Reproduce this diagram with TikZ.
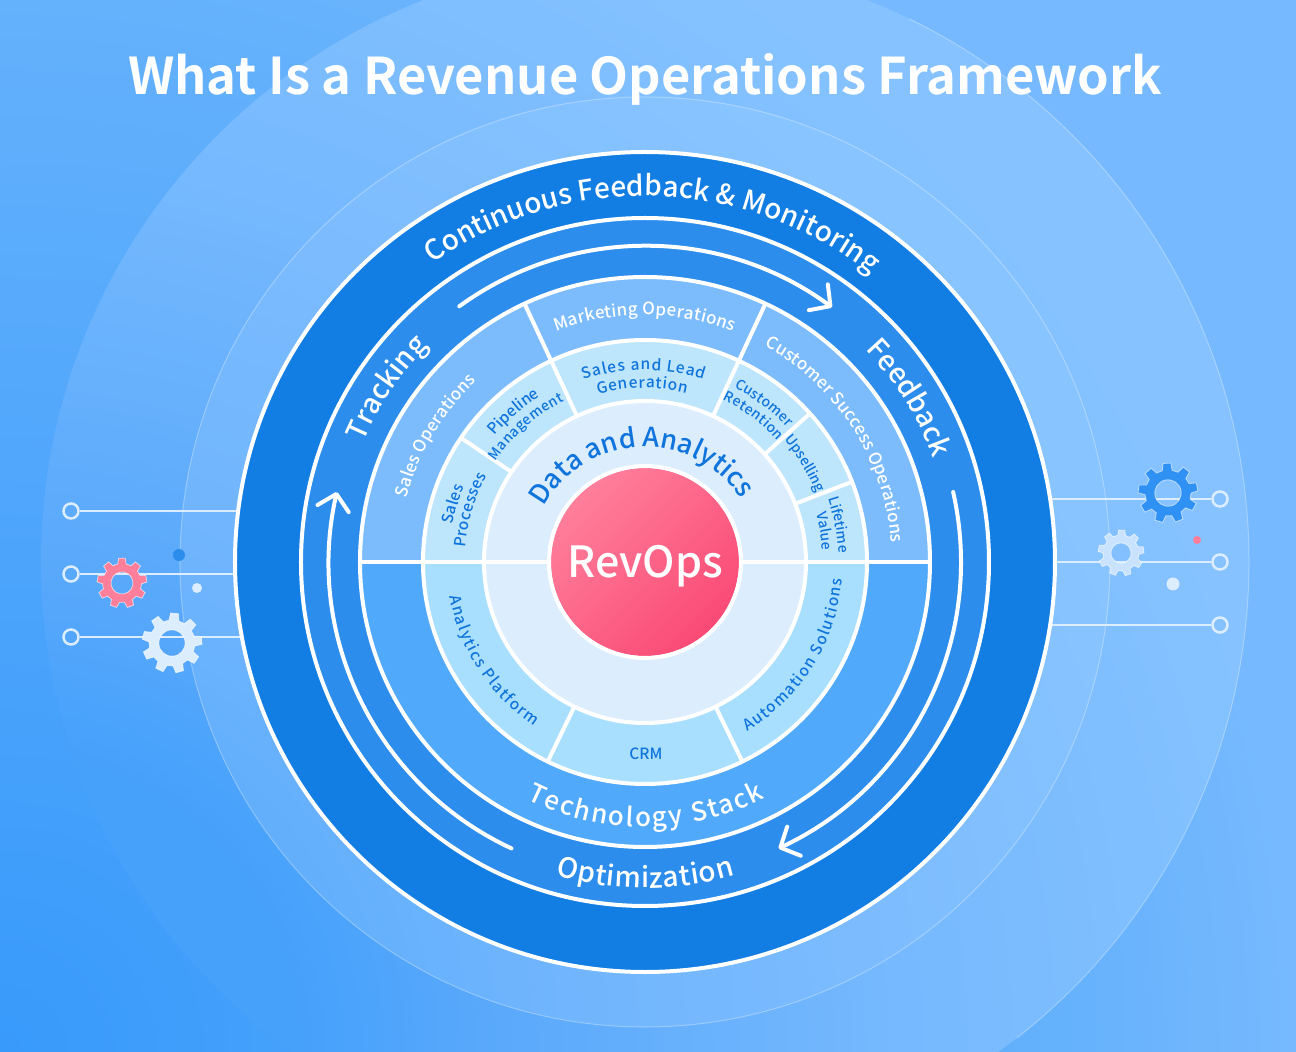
\documentclass[tikz,border=0pt]{standalone}
\usepackage{xcolor}
\usepackage{fontspec}
\setmainfont{Noto Sans CJK SC Medium}[BoldFont={Noto Sans CJK SC Bold}]
\definecolor{darkring}{HTML}{127DE3}
\definecolor{midring}{HTML}{2C8DEC}
\definecolor{upperband}{HTML}{7CBCFD}
\definecolor{lowerband}{HTML}{50A9FB}
\definecolor{upperpale}{HTML}{BDE5FB}
\definecolor{lowerpale}{HTML}{A9DFFE}
\definecolor{corepale}{HTML}{DCEDFE}
\definecolor{inkblue}{HTML}{0F74DC}
\definecolor{rosehigh}{HTML}{FF7F9B}
\definecolor{roselow}{HTML}{FA4A75}
\definecolor{pinline}{HTML}{DCEDFF}
\definecolor{gearblue}{HTML}{2F91F4}
\definecolor{basea}{HTML}{389AFB}
\definecolor{baseb}{HTML}{64B1FC}
\definecolor{basec}{HTML}{76B9FE}
\definecolor{fara}{HTML}{46A1FB}
\definecolor{farb}{HTML}{5AA9FB}
\definecolor{farc}{HTML}{76B9FE}
\definecolor{fard}{HTML}{85C2FF}
\definecolor{neara}{HTML}{63AFFC}
\definecolor{nearb}{HTML}{6EB4FD}
\definecolor{nearc}{HTML}{7DBCFE}
\definecolor{neard}{HTML}{88C4FF}
\usepackage{tikz}
\usetikzlibrary{decorations.text, arrows.meta}
\pgfdeclareradialshading{basewash}{\pgfpoint{0bp}{0bp}}{color(0bp)=(basea); color(15.45bp)=(baseb); color(19.05bp)=(basec); color(50bp)=(basec)}
\pgfdeclareradialshading{farwash}{\pgfpoint{0bp}{0bp}}{color(0bp)=(fara); color(4.4bp)=(fara); color(7.35bp)=(farb); color(13.25bp)=(farc); color(19.1bp)=(fard); color(50bp)=(fard)}
\pgfdeclareradialshading{nearwash}{\pgfpoint{0bp}{0bp}}{color(0bp)=(neara); color(5.15bp)=(neara); color(7.65bp)=(nearb); color(13.25bp)=(nearc); color(17.65bp)=(neard); color(50bp)=(neard)}
\newcommand{\ringfont}{\fontsize{28}{28}\selectfont\color{white}}
\newcommand{\stackfont}{\fontsize{26}{26}\selectfont\color{white}}
\newcommand{\bandfont}{\fontsize{17}{17}\selectfont\color{white}}
\newcommand{\palefont}{\fontsize{15.5}{16}\selectfont\color{inkblue}}
\newcommand{\smallfont}{\fontsize{14}{14}\selectfont\color{inkblue}}
\newcommand{\corefont}{\fontsize{26.8}{28}\selectfont\color{inkblue}}
\newcommand{\curvelabel}[5]{
	\path[decorate, decoration={text along path, text format delimiters={|}{|}, text align={fit to path}, text={|#1|#2}}]
	(#4:#3) arc[start angle=#4, end angle=#5, radius=#3];
}
\newcommand{\gearwheel}[7]{
	\pgfmathsetmacro{\gs}{360/#6}
	\begin{scope}[shift={(#1,#2)}, rotate=#7]
		\path[gearbody, fill=#5] (-.31*\gs:#4) foreach \k in {0,...,\numexpr#6-1\relax} {
			-- ({\k*\gs-.31*\gs}:#4) -- ({\k*\gs-.19*\gs}:#3) -- ({\k*\gs+.19*\gs}:#3) -- ({\k*\gs+.31*\gs}:#4)
		} -- cycle (0,0) circle (#3*.44);
	\end{scope}
}
\begin{document}
\begin{tikzpicture}[x=1pt, y=1pt,
	pin/.style={circle, draw=pinline, line width=2.5pt, minimum size=15pt, inner sep=0pt},
	feed/.style={draw=pinline, line width=2.5pt},
	gearbody/.style={even odd rule, draw=white, draw opacity=.6, line width=.8pt},
	sweep/.style={white, line width=4pt, line cap=round, -{Straight Barb[length=15pt, width=32pt, round, line width=4pt]}},
	seam/.style={white, line width=4pt},
	ring/.style={draw=white, line width=4pt}]
	
	\useasboundingbox (-645,-490) rectangle (651,562);
	\begin{scope}
		\clip (-645,-490) rectangle (651,562);
		\shade[shading=basewash] (-2345,-2190) rectangle (1055,1210);
		\begin{scope}
			\clip (0,0) circle (604);
			\shade[shading=farwash] (-2345,-2190) rectangle (1055,1210);
		\end{scope}
		\draw[white, opacity=.3, line width=1pt] (-52:604) arc[start angle=-52, end angle=64, radius=604];
		\begin{scope}
			\clip (0,0) circle (465);
			\shade[shading=nearwash] (-2345,-2190) rectangle (1055,1210);
		\end{scope}
		\draw[white, opacity=.3, line width=1pt] (0,0) circle (465);
	\end{scope}
	
	\node[pin] (lefta) at (-574,51) {};
	\node[pin] (leftb) at (-574,-12) {};
	\node[pin] (leftc) at (-574,-75) {};
	\node[pin] (righta) at (575,63) {};
	\node[pin] (rightb) at (575,0) {};
	\node[pin] (rightc) at (575,-63) {};
	\coordinate (ringa) at (-380,51);
	\coordinate (ringb) at (-380,-12);
	\coordinate (ringc) at (-380,-75);
	\coordinate (ringd) at (380,63);
	\coordinate (ringe) at (380,0);
	\coordinate (ringf) at (380,-63);
	\draw[feed] (lefta) -- (ringa);
	\draw[feed] (leftb) -- (ringb);
	\draw[feed] (leftc) -- (ringc);
	\draw[feed] (righta) -- (ringd);
	\draw[feed] (rightb) -- (ringe);
	\draw[feed] (rightc) -- (ringf);
	
	\fill[midring] (-466,7) circle (6);
	\fill[pinline] (-448,-26) circle (5);
	\fill[rosehigh] (552,22) circle (4);
	\fill[corepale] (528,-22) circle (6.5);
	\gearwheel{-523}{-21}{25}{19.5}{rosehigh}{9}{10}
	\gearwheel{-473}{-81}{30}{23}{corepale}{9}{5}
	\gearwheel{523}{69}{30}{23}{gearblue}{9}{12}
	\gearwheel{476}{9}{23}{18}{corepale!80!upperband}{9}{8}
	
	\draw[ring, fill=darkring] (0,0) circle (410);
	\draw[ring, fill=midring] (0,0) circle (344);
	\draw[sweep] (126:316) arc[start angle=126, end angle=53.7, radius=316];
	\draw[sweep] (12.8:316) arc[start angle=12.8, end angle=-65, radius=316];
	\draw[sweep] (245:316) arc[start angle=245, end angle=167.2, radius=316];
	
	\fill[upperband] (-285,0) arc[start angle=180, end angle=0, radius=285] -- cycle;
	\fill[lowerband] (-285,0) arc[start angle=180, end angle=360, radius=285] -- cycle;
	\draw[ring] (0,0) circle (285);
	\fill[upperpale] (-222,0) arc[start angle=180, end angle=0, radius=222] -- cycle;
	\fill[lowerpale] (-222,0) arc[start angle=180, end angle=360, radius=222] -- cycle;
	\draw[ring] (0,0) circle (222);
	\draw[ring, fill=corepale] (0,0) circle (161);
	\foreach \a in {115,65} {\draw[seam] (\a:161) -- (\a:285);}
	\foreach \a in {146,42,21.2} {\draw[seam] (\a:161) -- (\a:222);}
	\foreach \a in {244,296} {\draw[seam] (\a:161) -- (\a:222);}
	\draw[seam] (-285,0) -- (-90,0);
	\draw[seam] (285,0) -- (90,0);
	\shade[top color=rosehigh, bottom color=roselow, shading angle=45] (0,0) circle (94);
	\draw[ring] (0,0) circle (96);
	
	\node[text=white, font=\fontsize{50.6}{51}\selectfont\bfseries] (title) at (0,483) {What Is a Revenue Operations Framework};
	\node[text=white, font=\fontsize{43}{44}\selectfont] (hub) at (0,-4) {RevOps};
	\node[text=inkblue, font=\fontsize{15.5}{16}\selectfont] (crm) at (1,-192) {CRM};
	
	\curvelabel{\ringfont}{Continuous Feedback {\&} Monitoring}{366}{125.5}{52.3}
	\curvelabel{\ringfont}{Tracking}{306}{157}{136}
	\curvelabel{\ringfont}{Feedback}{306}{44}{20}
	\curvelabel{\ringfont}{Optimization}{326}{-106}{-74}
	\curvelabel{\stackfont}{Technology Stack}{265}{-116.5}{-63}
	\curvelabel{\bandfont}{Marketing Operations}{247}{111}{69}
	\curvelabel{\bandfont}{Sales Operations}{247}{165}{133}
	\curvelabel{\bandfont}{Customer Success Operations}{247}{61}{4.5}
	\curvelabel{\palefont}{Analytics Platform}{198}{190}{236}
	\curvelabel{\palefont}{Automation Solutions}{198}{-59}{-5}
	\curvelabel{\corefont}{Data and Analytics}{115}{151.5}{34.5}
	\curvelabel{\palefont}{Sales and Lead}{192}{108.6}{72}
	\curvelabel{\palefont}{Generation}{174}{105.6}{76}
	\curvelabel{\palefont}{Pipeline}{196}{140}{123.4}
	\curvelabel{\smallfont}{Management}{180}{146}{116.6}
	\curvelabel{\palefont}{Sales}{196}{168.9}{158}
	\curvelabel{\palefont}{Processes}{180}{175.5}{151.4}
	\curvelabel{\smallfont}{Customer}{196}{63}{43.4}
	\curvelabel{\smallfont}{Retention}{180}{64.4}{42.4}
	\curvelabel{\smallfont}{Upselling}{185}{41.3}{22.4}
	\curvelabel{\smallfont}{Lifetime}{194}{19}{3}
	\curvelabel{\smallfont}{Value}{178}{15.8}{4.7}
\end{tikzpicture}
\end{document}
